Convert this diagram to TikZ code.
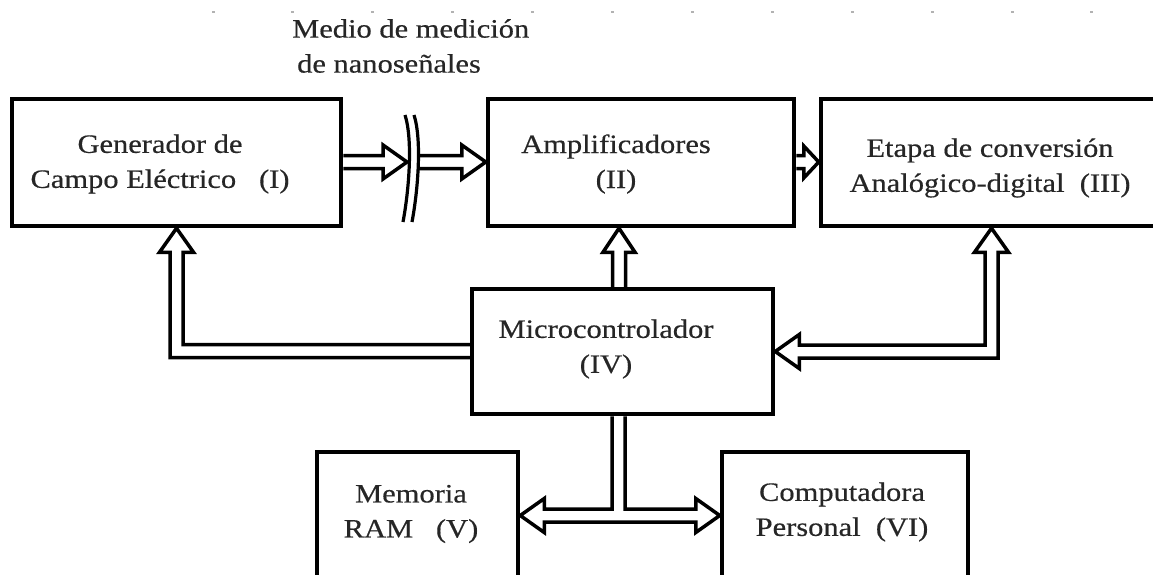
\documentclass[tikz,border=0pt]{standalone}
\usepackage{fontspec}
\setmainfont{Liberation Serif}[FakeStretch=1.15, FakeBold=0.5]
\usetikzlibrary{calc}
\tikzset{
  box/.style={draw, line width=4.5pt, rectangle, inner sep=0pt},
  lbl/.style={align=center, inner sep=0pt, font=\fontsize{26.5}{35}\selectfont, text=black!85},
  dbl/.style={line width=3.5pt, line join=miter},
  brkline/.style={line width=3.2pt},
}
\begin{document}
\begin{tikzpicture}[x=1pt, y=-1pt]
\useasboundingbox (0,0) rectangle (1153,575);
\clip (0,0) rectangle (1153,575);
% faint tick marks along the top
\foreach \i in {0,...,11} {
  \fill[gray!60] (213+79.9*\i-1.5,11) rectangle ++(3,2.5);
}
% boxes
\node[box, minimum width=329pt, minimum height=127pt] (I) at (176.5,162.5) {};
\node[box, minimum width=306pt, minimum height=127pt] (II) at (641,162.5) {};
\node[box, minimum width=349pt, minimum height=127pt] (III) at (995.5,162.5) {};
\node[box, minimum width=301pt, minimum height=125pt] (IV) at (622.5,351.5) {};
\node[box, minimum width=201pt, minimum height=170pt] (V) at (417.5,537) {};
\node[box, minimum width=246pt, minimum height=170pt] (VI) at (845,537) {};
% labels
\node[lbl] (tI) at (160,164) {Generador de\\Campo Eléctrico \ \ (I)};
\node[lbl] (tII) at (616,164) {Amplificadores\\(II)};
\node[lbl] (tIII) at (990,168) {Etapa de conversión\\Analógico-digital \ (III)};
\node[lbl] (tIV) at (606,349) {Microcontrolador\\(IV)};
\node[lbl] (tV) at (411,514) {Memoria\\RAM \ \ (V)};
\node[lbl] (tVI) at (842,512) {Computadora\\Personal \ (VI)};
\node[lbl, align=left, anchor=west] (tM) at (292,46) {Medio de medición\\\hspace{5pt}de nanoseñales};
% break symbol
\coordinate (brk) at (407,162);
\coordinate (brk2) at (419,162);
\draw[brkline] (405,115) .. controls (413,140) and (409,190) .. (403,222);
\draw[brkline] (414,115) .. controls (422,140) and (418,190) .. (412,222);
% arrow I -> break
\coordinate (ay1) at (0,162);
\draw[dbl] ($(I.east |- ay1)+(0,-6.5)$) -- ($(brk)+(-24,-6.5)$) -- ($(brk)+(-24,-17)$) -- (brk)
  -- ($(brk)+(-24,17)$) -- ($(brk)+(-24,6.5)$) -- ($(I.east |- ay1)+(0,6.5)$);
% arrow break -> II
\coordinate (t2) at (II.west |- ay1);
\draw[dbl] ($(brk2)+(0,-6.5)$) -- ($(t2)+(-24,-6.5)$) -- ($(t2)+(-24,-17)$) -- (t2)
  -- ($(t2)+(-24,17)$) -- ($(t2)+(-24,6.5)$) -- ($(brk2)+(0,6.5)$);
% arrow II -> III
\coordinate (t3) at (III.west |- ay1);
\draw[dbl] ($(II.east |- ay1)+(0,-6.5)$) -- ($(t3)+(-15,-6.5)$) -- ($(t3)+(-15,-16)$) -- (t3)
  -- ($(t3)+(-15,16)$) -- ($(t3)+(-15,6.5)$) -- ($(II.east |- ay1)+(0,6.5)$);
% arrow IV -> II
\coordinate (ax2) at (619,0);
\coordinate (t4u) at (ax2 |- II.south);
\draw[dbl] ($(ax2 |- IV.north)+(-6.5,0)$) -- ($(t4u)+(-6.5,24)$) -- ($(t4u)+(-16,24)$) -- (t4u)
  -- ($(t4u)+(16,24)$) -- ($(t4u)+(6.5,24)$) -- ($(ax2 |- IV.north)+(6.5,0)$);
% arrow IV -> I
\coordinate (c4) at (176.5,351);
\coordinate (t4) at (c4 |- I.south);
\draw[dbl] ($(IV.west |- c4)+(0,6.5)$) -- ($(c4)+(-6.5,6.5)$) -- ($(t4)+(-6.5,24)$) -- ($(t4)+(-17,24)$) -- (t4)
  -- ($(t4)+(17,24)$) -- ($(t4)+(6.5,24)$) -- ($(c4)+(6.5,-6.5)$) -- ($(IV.west |- c4)+(0,-6.5)$);
% arrow IV <-> III
\coordinate (c5) at (991.5,351.5);
\coordinate (t5) at (c5 |- III.south);
\coordinate (t5b) at (IV.east |- c5);
\draw[dbl] ($(t5b)+(24,-6.5)$) -- ($(t5b)+(24,-17)$) -- (t5b) -- ($(t5b)+(24,17)$) -- ($(t5b)+(24,6.5)$)
  -- ($(c5)+(6.5,6.5)$) -- ($(t5)+(6.5,24)$) -- ($(t5)+(17,24)$) -- (t5) -- ($(t5)+(-17,24)$)
  -- ($(t5)+(-6.5,24)$) -- ($(c5)+(-6.5,-6.5)$) -- cycle;
% arrow IV -> V and VI
\coordinate (c6) at (618.5,515.5);
\coordinate (tl) at (V.east |- c6);
\coordinate (tr) at (VI.west |- c6);
\draw[dbl] ($(c6 |- IV.south)+(-6.5,0)$) -- ($(c6)+(-6.5,-6.5)$) -- ($(tl)+(24,-6.5)$) -- ($(tl)+(24,-17)$) -- (tl)
  -- ($(tl)+(24,17)$) -- ($(tl)+(24,6.5)$) -- ($(tr)+(-24,6.5)$) -- ($(tr)+(-24,17)$) -- (tr)
  -- ($(tr)+(-24,-17)$) -- ($(tr)+(-24,-6.5)$) -- ($(c6)+(6.5,-6.5)$) -- ($(c6 |- IV.south)+(6.5,0)$);
\end{tikzpicture}
\end{document}
